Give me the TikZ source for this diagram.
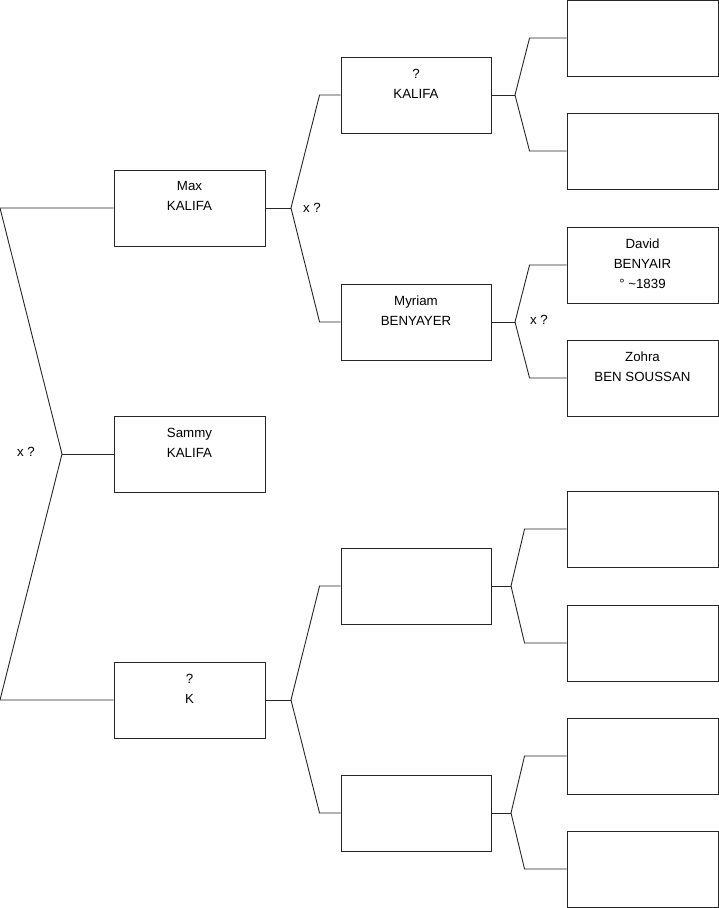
\documentclass[tikz,border=0pt]{standalone}
\usepackage{fontspec}
\setmainfont{Liberation Sans}
\usetikzlibrary{calc}
\tikzset{
  box/.style={draw=black!85, line width=0.9pt, rectangle, inner sep=0pt, minimum height=76pt},
  wbox/.style={box, minimum width=151pt},
  nbox/.style={box, minimum width=150pt},
  lbl/.style={align=center, inner sep=0pt, font=\fontsize{13.3}{20}\selectfont, anchor=north},
  xq/.style={inner sep=0pt, font=\fontsize{13.3}{16}\selectfont},
  link/.style={draw=black!85, line width=0.9pt},
}
\begin{document}
\begin{tikzpicture}[x=1pt, y=-1pt]
\useasboundingbox (0,0) rectangle (719,908);
% column 1
\node[wbox] (b11) at (189.5,208) {};
\node[wbox] (b12) at (189.5,454) {};
\node[wbox] (b13) at (189.5,700) {};
% column 2
\node[nbox] (b21) at (416,95) {};
\node[nbox] (b22) at (416,322) {};
\node[nbox] (b23) at (416,586) {};
\node[nbox] (b24) at (416,813) {};
% column 3
\node[wbox] (b31) at (642.5,38) {};
\node[wbox] (b32) at (642.5,151) {};
\node[wbox] (b33) at (642.5,265) {};
\node[wbox] (b34) at (642.5,378) {};
\node[wbox] (b35) at (642.5,529) {};
\node[wbox] (b36) at (642.5,643) {};
\node[wbox] (b37) at (642.5,756) {};
\node[wbox] (b38) at (642.5,869) {};
% labels
\node[lbl] (t11) at ($(b11.north)+(0,12)$) {Max\\KALIFA};
\node[lbl] (t12) at ($(b12.north)+(0,12)$) {Sammy\\KALIFA};
\node[lbl] (t13) at ($(b13.north)+(0,12)$) {?\\K};
\node[lbl] (t21) at ($(b21.north)+(0,12)$) {?\\KALIFA};
\node[lbl] (t22) at ($(b22.north)+(0,12)$) {Myriam\\BENYAYER};
\node[lbl] (t33) at ($(b33.north)+(0,12)$) {David\\BENYAIR\\° \textasciitilde1839};
\node[lbl] (t34) at ($(b34.north)+(0,12)$) {Zohra\\BEN SOUSSAN};
% fork points
\coordinate (a0) at (0,208);
\coordinate (a1) at (0,700);
\coordinate (f0) at (62,454);
\coordinate (f1) at (291,208);
\coordinate (f2) at (291,700);
\coordinate (g1) at (515,95);
\coordinate (g2) at (515,322);
\coordinate (g3) at (511,586);
\coordinate (g4) at (511,813);
% connectors
\draw[link] (b11.west) -- (a0) -- (f0) -- (a1) -- (b13.west);
\draw[link] (f0) -- (b12.west);
\draw[link] (b11.east) -- (f1);
\draw[link] (f1) -- ([xshift=-21]b21.west) -- (b21.west);
\draw[link] (f1) -- ([xshift=-21]b22.west) -- (b22.west);
\draw[link] (b13.east) -- (f2);
\draw[link] (f2) -- ([xshift=-21]b23.west) -- (b23.west);
\draw[link] (f2) -- ([xshift=-21]b24.west) -- (b24.west);
\draw[link] (b21.east) -- (g1);
\draw[link] (g1) -- ([xshift=-37]b31.west) -- (b31.west);
\draw[link] (g1) -- ([xshift=-37]b32.west) -- (b32.west);
\draw[link] (b22.east) -- (g2);
\draw[link] (g2) -- ([xshift=-37]b33.west) -- (b33.west);
\draw[link] (g2) -- ([xshift=-37]b34.west) -- (b34.west);
\draw[link] (b23.east) -- (g3);
\draw[link] (g3) -- ([xshift=-42]b35.west) -- (b35.west);
\draw[link] (g3) -- ([xshift=-42]b36.west) -- (b36.west);
\draw[link] (b24.east) -- (g4);
\draw[link] (g4) -- ([xshift=-42]b37.west) -- (b37.west);
\draw[link] (g4) -- ([xshift=-42]b38.west) -- (b38.west);
% marriage marks
\node[xq] (x0) at (26,452) {x ?};
\node[xq] (x1) at (312,208) {x ?};
\node[xq] (x2) at (539,320) {x ?};
\end{tikzpicture}
\end{document}
